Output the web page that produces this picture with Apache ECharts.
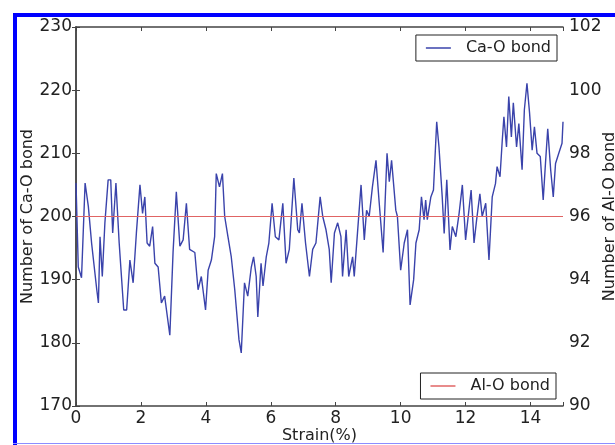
<!DOCTYPE html>
<html>
<head>
<meta charset="utf-8">
<script src="https://cdn.jsdelivr.net/npm/echarts@6/dist/echarts.min.js"></script>
<style>
  html, body { margin: 0; padding: 0; background: #fff; }
  #chart { width: 615px; height: 445px; }
</style>
</head>
<body>
<div id="chart"></div>
<script>
// strain (%)
var strain = [
  0, 0.07, 0.17, 0.28, 0.38, 0.48, 0.64, 0.69, 0.74, 0.81, 0.89, 0.99, 1.07, 1.13, 1.23, 1.33,
  1.47, 1.56, 1.66, 1.76, 1.86, 1.97, 2.05, 2.12, 2.19, 2.27, 2.36, 2.43, 2.53, 2.63, 2.73, 2.89,
  2.99, 3.09, 3.20, 3.30, 3.40, 3.50, 3.66, 3.76, 3.86, 3.99, 4.07, 4.17, 4.27, 4.32, 4.42, 4.51,
  4.58, 4.68, 4.78, 4.89, 5.02, 5.09, 5.19, 5.29, 5.40, 5.47, 5.55, 5.60, 5.70, 5.76, 5.86, 5.94,
  6.04, 6.14, 6.25, 6.37, 6.47, 6.57, 6.71, 6.83, 6.88, 6.96, 7.07, 7.19, 7.29, 7.39, 7.52, 7.60,
  7.70, 7.80, 7.86, 7.96, 8.06, 8.16, 8.21, 8.32, 8.40, 8.52, 8.57, 8.67, 8.78, 8.88, 8.95, 9.03,
  9.13, 9.24, 9.34, 9.46, 9.58, 9.65, 9.72, 9.85, 9.90, 10.00, 10.11, 10.21, 10.29, 10.40, 10.47,
  10.57, 10.64, 10.72, 10.77, 10.82, 10.93, 11.01, 11.11, 11.18, 11.28, 11.34, 11.42, 11.52, 11.59,
  11.70, 11.80, 11.90, 12.00, 12.08, 12.17, 12.26, 12.34, 12.44, 12.51, 12.62, 12.72, 12.82, 12.92,
  12.97, 13.06, 13.13, 13.18, 13.26, 13.33, 13.41, 13.47, 13.57, 13.64, 13.74, 13.81, 13.89, 13.97,
  14.05, 14.12, 14.20, 14.30, 14.39, 14.46, 14.53, 14.62, 14.70, 14.77, 14.87, 14.97, 15.0
];
// number of Ca-O bonds
var caO = [
  205.3, 192, 190.3, 205.3, 201.6, 195.8, 188.4, 186.3, 196.8, 190.5, 199, 205.8, 205.8, 197.4, 205.3, 195.8,
  185.2, 185.2, 193.1, 189.5, 197.4, 205, 200.5, 203.1, 195.8, 195.3, 198.4, 192.6, 192, 186.3, 187.4, 181.2,
  194.4, 203.9, 195.3, 196.3, 202.1, 194.8, 194.3, 188.4, 190.5, 185.2, 191.5, 193.1, 196.8, 206.8, 204.7, 206.8,
  200, 196.8, 193.7, 188.4, 180.5, 178.4, 189.5, 187.4, 192, 193.6, 190.5, 184.1, 192.6, 189, 193.6, 195.8,
  202.1, 196.8, 196.3, 202.1, 192.6, 194.8, 206.1, 197.9, 197.4, 202.1, 195.8, 190.5, 194.8, 195.8, 203.1, 200,
  197.9, 194.8, 189.5, 197.4, 199, 196.8, 190.5, 197.9, 190.5, 193.6, 190.5, 197.4, 205, 196.3, 201, 200,
  204.7, 208.9, 202.1, 194.3, 210, 205.5, 208.9, 201, 200, 191.5, 195.8, 197.9, 186, 190, 195.8,
  197.9, 203.1, 199.5, 202.6, 199.5, 203.1, 204.2, 215, 211, 203.1, 197.3, 205.8, 194.7, 198.4,
  196.8, 200.5, 205, 196.3, 200, 204.2, 195.8, 199.5, 203.6, 200, 202.1, 193.1, 203.1, 205.2,
  207.9, 206.3, 212.1, 215.8, 211, 219, 212.6, 218, 211, 214.7, 207.4, 216.9, 221.1, 216.4,
  210.5, 214.2, 210, 209.5, 202.6, 208.4, 213.9, 207.4, 203.1, 208.4, 210, 211.6, 215
];
// Al-O bonds stay flat
var alStrain = [0, 15];
var alO = [96, 96];

var leftTicks = [170, 230, 10];
var rightTicks = [90, 102, 2];
var xTicks = [0, 15, 2];

var caData = strain.map(function (s, i) { return [s, caO[i]]; });
var alData = alStrain.map(function (s, i) { return [s, alO[i]]; });

var chart = echarts.init(document.getElementById('chart'));
var font = 'DejaVu Sans';
var axisCol = '#444';
var caCol = '#3a43ab';
var alCol = '#e06464';

function legendBox(name, col, right, top) {
  return {
    data: [{ name: name, icon: 'rect', itemStyle: { color: col } }],
    right: right, top: top,
    itemWidth: 25, itemHeight: 1.5,
    padding: [5, 6, 5, 10],
    borderColor: '#222', borderWidth: 1, borderRadius: 0,
    textStyle: { fontSize: 16, color: '#222', fontFamily: font, padding: [0, 0, 0, 10] }
  };
}

var option = {
  animation: false,
  backgroundColor: '#fff',
  textStyle: { fontFamily: font },
  grid: { left: 76, right: 52, top: 27, bottom: 39, outerBoundsMode: 'none' },
  xAxis: [{
    type: 'value',
    min: xTicks[0], max: xTicks[1], interval: xTicks[2],
    name: 'Strain(%)', nameLocation: 'middle', nameGap: 22, nameMoveOverlap: false,
    nameTextStyle: { fontSize: 16, color: '#222', fontFamily: font },
    axisLine: { lineStyle: { color: axisCol, width: 1.5 } },
    axisTick: { inside: true, length: 4, lineStyle: { color: axisCol } },
    axisLabel: {
      fontSize: 17, color: '#222', margin: 4, fontFamily: font,
      formatter: function (v) { return v % 2 === 0 ? v : ''; }
    },
    splitLine: { show: false }
  }, {
    type: 'value', position: 'top',
    min: xTicks[0], max: xTicks[1], interval: xTicks[2],
    axisLine: { lineStyle: { color: axisCol, width: 1.5 } },
    axisTick: { inside: true, length: 4, lineStyle: { color: axisCol } },
    axisLabel: { show: false },
    splitLine: { show: false }
  }],
  yAxis: [{
    type: 'value', position: 'left',
    min: leftTicks[0], max: leftTicks[1], interval: leftTicks[2],
    name: 'Number of Ca-O bond', nameLocation: 'middle', nameGap: 40, nameMoveOverlap: false,
    nameTextStyle: { fontSize: 16, color: '#222', fontFamily: font },
    axisLine: { show: true, lineStyle: { color: axisCol, width: 1.5 } },
    axisTick: { show: true, inside: true, length: 4, lineStyle: { color: axisCol } },
    axisLabel: { fontSize: 17, color: '#222', margin: 4, fontFamily: font },
    splitLine: { show: false }
  }, {
    type: 'value', position: 'right',
    min: rightTicks[0], max: rightTicks[1], interval: rightTicks[2],
    name: 'Number of Al-O bond', nameLocation: 'middle', nameGap: 39, nameRotate: 90, nameMoveOverlap: false,
    nameTextStyle: { fontSize: 16, color: '#222', fontFamily: font },
    axisLine: { show: true, lineStyle: { color: axisCol, width: 1.5 } },
    axisTick: { show: true, inside: true, length: 4, lineStyle: { color: axisCol } },
    axisLabel: { fontSize: 17, color: '#222', margin: 6, fontFamily: font },
    splitLine: { show: false }
  }],
  legend: [
    legendBox('Ca-O bond', caCol, 58, 35),
    legendBox('Al-O bond', alCol, 59, 373)
  ],
  series: [{
    name: 'Ca-O bond',
    type: 'line',
    xAxisIndex: 0, yAxisIndex: 0,
    symbol: 'none',
    data: caData,
    lineStyle: { color: caCol, width: 1.4 },
    itemStyle: { color: caCol },
    z: 3
  }, {
    name: 'Al-O bond',
    type: 'line',
    xAxisIndex: 0, yAxisIndex: 1,
    symbol: 'none',
    data: alData,
    lineStyle: { color: alCol, width: 1.2 },
    itemStyle: { color: alCol },
    z: 4
  }],
  graphic: [
    { type: 'rect', shape: { x: 13, y: 13, width: 4, height: 432 }, style: { fill: '#0000ff' } },
    { type: 'rect', shape: { x: 13, y: 13, width: 602, height: 4 }, style: { fill: '#0000ff' } },
    { type: 'rect', shape: { x: 13, y: 443, width: 602, height: 1 }, style: { fill: '#8c8cff' } }
  ]
};

chart.setOption(option);
</script>
</body>
</html>
